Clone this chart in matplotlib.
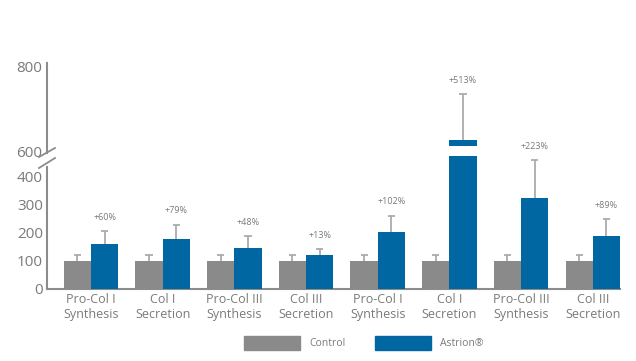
import matplotlib
matplotlib.use('Agg')
import matplotlib.pyplot as plt
import matplotlib.transforms as mtransforms
from matplotlib.lines import Line2D
from matplotlib.patches import Patch
import numpy as np

categories = ["Pro-Col I\nSynthesis", "Col I\nSecretion", "Pro-Col III\nSynthesis", "Col III\nSecretion",
              "Pro-Col I\nSynthesis", "Col I\nSecretion", "Pro-Col III\nSynthesis", "Col III\nSecretion"]
control = [100, 100, 100, 100, 100, 100, 100, 100]
control_err = [20, 20, 20, 20, 20, 20, 20, 20]
astrion = [160, 179, 148, 120, 202, 630, 326, 189]
astrion_err = [46, 50, 40, 22, 60, 109, 135, 60]
pct_labels = ["+60%", "+79%", "+48%", "+13%", "+102%", "+513%", "+223%", "+89%"]
lower_ticks = [0, 100, 200, 300, 400]
upper_ticks = [600, 800]
series_names = ["Control", "Astrion\u00ae"]

GRAY = '#8a8a8a'
BLUE = '#0067a3'
TXT = '#7a7a7a'
AXC = '#8c8c8c'
ERRC = '#ababab'

plt.rcParams['font.family'] = ['Open Sans', 'DejaVu Sans']

W, H = 636, 361
fig = plt.figure(figsize=(W / 100, H / 100), dpi=100)

def fx(p):
    return p / W

def fy(p):
    return 1 - p / H

ax_lo = fig.add_axes([fx(47), fy(289), fx(620) - fx(47), fy(156) - fy(289)])
ax_hi = fig.add_axes([fx(47), fy(146), fx(620) - fx(47), fy(63) - fy(146)])
ax_hi.patch.set_visible(False)
ax_lo.patch.set_visible(False)

x = np.arange(len(categories))
w = 0.38
cw = 0.05
LO_TOP = 475

def up_errors(ax, xs, vals, errs):
    vals = np.asarray(vals, float)
    tops = vals + np.asarray(errs, float)
    ax.vlines(xs, vals, tops, color=ERRC, linewidth=1.3, zorder=2)
    ax.hlines(tops, xs - cw, xs + cw, color=ERRC, linewidth=1.3, zorder=2)

for ax in (ax_lo, ax_hi):
    ax.bar(x - w / 2, control, w, color=GRAY, zorder=3)
    ax.bar(x + w / 2, astrion, w, color=BLUE, zorder=3)
    up_errors(ax, x - w / 2, control, control_err)
    up_errors(ax, x + w / 2, astrion, astrion_err)
    ax.set_xlim(-0.614, 7.38)
    for s in ('top', 'right'):
        ax.spines[s].set_visible(False)
    ax.spines['left'].set_color(AXC)
    ax.spines['left'].set_linewidth(1.5)
    ax.tick_params(length=0)

# lower axes
ax_lo.set_ylim(0, LO_TOP)
ax_lo.spines['left'].set_bounds(0, 436)
ax_lo.spines['bottom'].set_color(AXC)
ax_lo.spines['bottom'].set_linewidth(1.5)
ax_lo.set_yticks(lower_ticks)
ax_lo.set_yticklabels([str(t) for t in lower_ticks], fontsize=11, color=TXT)
ax_lo.tick_params(axis='y', pad=3)
ax_lo.set_xticks(x)
ax_lo.set_xticklabels(categories, fontsize=9, color=TXT, linespacing=1.15)
ax_lo.tick_params(axis='x', pad=3)

# upper axes
ax_hi.set_ylim(616.5, 812)
ax_hi.spines['bottom'].set_visible(False)
ax_hi.spines['left'].set_bounds(600, 812)
ax_hi.set_xticks([])
ax_hi.set_yticks([])
trans = mtransforms.blended_transform_factory(ax_hi.transAxes, ax_hi.transData)
for t in upper_ticks:
    ax_hi.text(-0.009, t, str(t), transform=trans, ha='right', va='center',
               fontsize=11, color=TXT, clip_on=False)

# percentage labels
for i in range(len(x)):
    top = astrion[i] + astrion_err[i]
    ax = ax_lo if top < LO_TOP else ax_hi
    ax.annotate(pct_labels[i], (x[i] + w / 2, top), xytext=(0, 10), textcoords='offset points',
                ha='center', va='center', fontsize=6.5, color=TXT, annotation_clip=False)

# break marks
for (y1, y2) in [(157, 148), (168, 158)]:
    fig.add_artist(Line2D([fx(39), fx(55)], [fy(y1), fy(y2)], transform=fig.transFigure,
                          color=AXC, linewidth=1.3))

handles = [Patch(color=GRAY, label=series_names[0]), Patch(color=BLUE, label=series_names[1])]
fig.legend(handles=handles, loc='center', bbox_to_anchor=(fx(364), fy(343)), ncol=2,
           frameon=False, handlelength=5.3, handleheight=1.55, handletextpad=0.9,
           columnspacing=2.9, fontsize=7.5, labelcolor=TXT)

fig.savefig('out.png', dpi=100)
